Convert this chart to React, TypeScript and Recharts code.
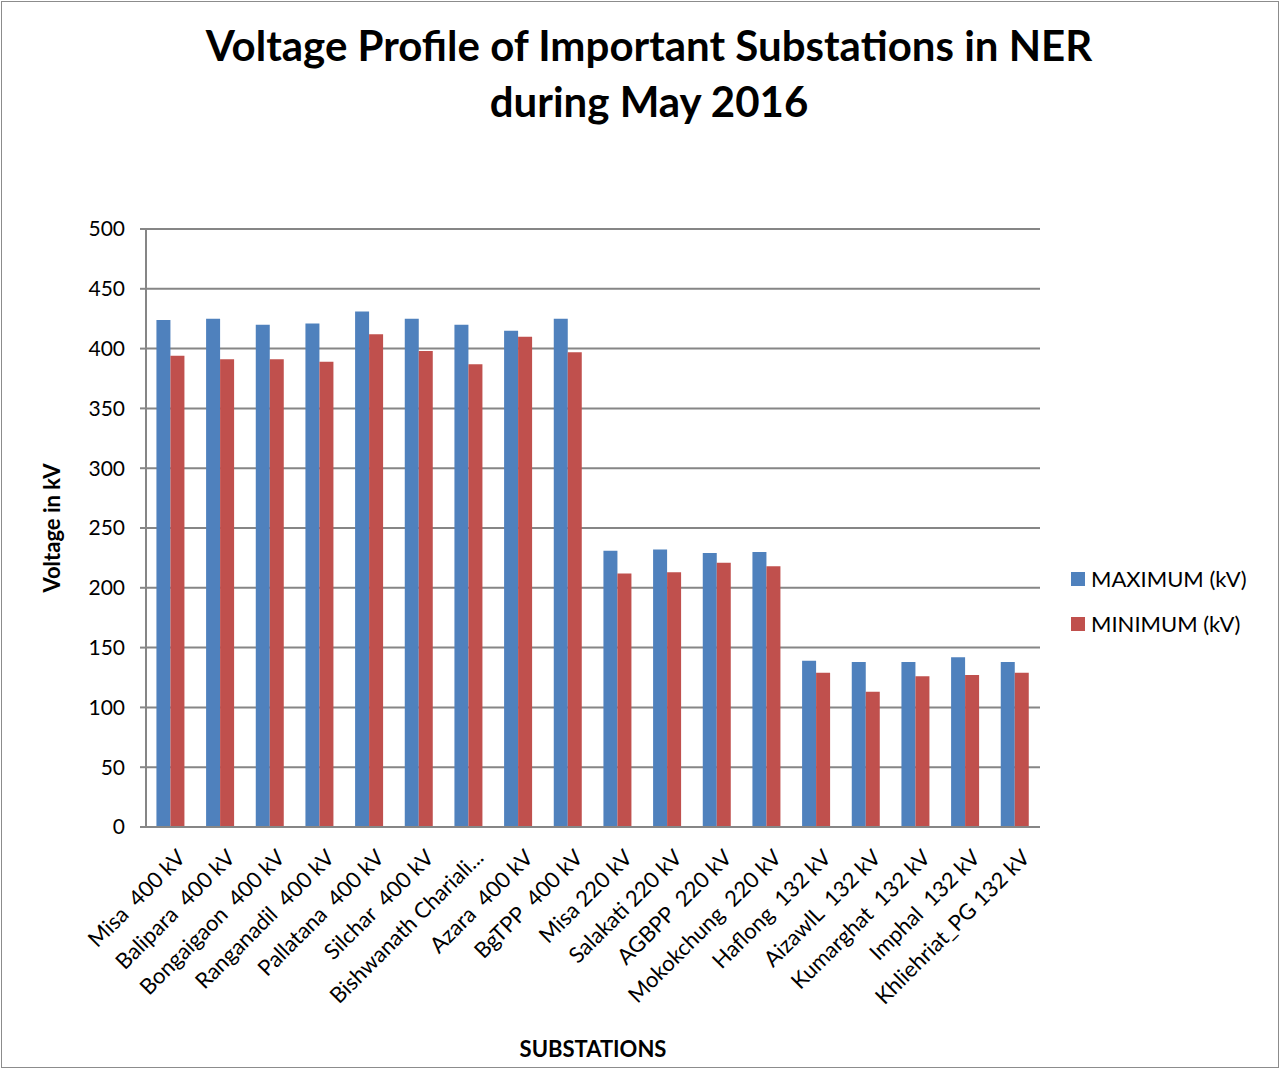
import React from "react";
import {
  BarChart,
  Bar,
  CartesianGrid,
  XAxis,
  YAxis,
  Legend,
  Label,
} from "recharts";

// Values (kV)
const substations = [
  "Misa  400 kV",
  "Balipara  400 kV",
  "Bongaigaon  400 kV",
  "Ranganadil  400 kV",
  "Pallatana  400 kV",
  "Silchar  400 kV",
  "Bishwanath Chariali...",
  "Azara  400 kV",
  "BgTPP  400 kV",
  "Misa 220 kV",
  "Salakati 220 kV",
  "AGBPP  220 kV",
  "Mokokchung  220 kV",
  "Haflong  132 kV",
  "AizawlL  132 kV",
  "Kumarghat  132 kV",
  "Imphal  132 kV",
  "Khliehriat_PG 132 kV",
];
const maximumKv = [424, 425, 420, 421, 431, 425, 420, 415, 425, 231, 232, 229, 230, 139, 138, 138, 142, 138];
const minimumKv = [394, 391, 391, 389, 412, 398, 387, 410, 397, 212, 213, 221, 218, 129, 113, 126, 127, 129];
const yTicks = [0, 50, 100, 150, 200, 250, 300, 350, 400, 450, 500];

const data = substations.map((name, i) => ({
  name,
  max: maximumKv[i],
  min: minimumKv[i],
}));

const FONT = "Lato, 'Open Sans', sans-serif";

const SlantTick = (props: any) => {
  const { x, y, payload } = props;
  return (
    <g transform={`translate(${x + 10},${y + 18})`}>
      <text
        transform="rotate(-45)"
        textAnchor="end"
        dominantBaseline="central"
        fontSize={22}
        fontFamily={FONT}
        fill="#000"
        style={{ whiteSpace: "pre" }}
      >
        {payload.value}
      </text>
    </g>
  );
};

// legend drawn as a plain vertical list so it doesn't shrink the plot
const LegendList = (props: any) => {
  const items = props.payload || [];
  return (
    <div>
      {items.map((it: any) => (
        <div
          key={it.value}
          style={{ display: "flex", alignItems: "center", height: 45, fontSize: 22, color: "#000" }}
        >
          <span style={{ width: 14, height: 14, background: it.color, marginRight: 6, display: "inline-block" }} />
          {it.value}
        </div>
      ))}
    </div>
  );
};

export default function App() {
  return (
    <div
      style={{
        position: "absolute",
        left: 0,
        top: 0,
        width: 1281,
        height: 1069,
        background: "#fff",
        fontFamily: FONT,
      }}
    >
      <div
        style={{
          position: "absolute",
          left: 1,
          top: 1,
          width: 1276,
          height: 1065,
          border: "1px solid #8c8c8c",
        }}
      />
      <div
        style={{
          position: "absolute",
          left: 0,
          top: 17,
          width: 1298,
          textAlign: "center",
          fontSize: 42,
          fontWeight: 700,
          lineHeight: "56px",
          color: "#000",
        }}
      >
        Voltage Profile of Important Substations in NER
        <br />
        during May 2016
      </div>
      <BarChart
        width={1281}
        height={1069}
        data={data}
        margin={{ top: 229, right: 241, bottom: 22, left: 36 }}
        barCategoryGap="21%"
        barGap={0}
      >
        <CartesianGrid vertical={false} stroke="#868686" strokeWidth={2} />
        <XAxis
          dataKey="name"
          interval={0}
          height={220}
          tick={<SlantTick />}
          tickLine={false}
          axisLine={{ stroke: "#868686", strokeWidth: 2 }}
        >
          <Label
            value="SUBSTATIONS"
            position="insideBottom"
            offset={-10}
            style={{ fontSize: 22, fontWeight: 700, fill: "#000", fontFamily: FONT }}
          />
        </XAxis>
        <YAxis
          width={110}
          domain={[0, 500]}
          ticks={yTicks}
          interval={0}
          tickSize={6}
          tickMargin={15}
          tick={{ fontSize: 21, fill: "#000", fontFamily: FONT }}
          axisLine={{ stroke: "#868686", strokeWidth: 2 }}
          tickLine={{ stroke: "#868686", strokeWidth: 2 }}
        >
          <Label
            value="Voltage in kV"
            angle={-90}
            position="insideLeft"
            offset={16}
            style={{ textAnchor: "middle", fontSize: 22, fontWeight: 700, fill: "#000", fontFamily: FONT }}
          />
        </YAxis>
        <Legend
          layout="horizontal"
          align="center"
          verticalAlign="middle"
          content={<LegendList />}
          wrapperStyle={{ left: 1071, top: 556, width: 210, fontFamily: FONT }}
        />
        <Bar dataKey="max" name="MAXIMUM (kV)" fill="#4f81bd" isAnimationActive={false} />
        <Bar dataKey="min" name="MINIMUM (kV)" fill="#c0504d" isAnimationActive={false} />
      </BarChart>
    </div>
  );
}
